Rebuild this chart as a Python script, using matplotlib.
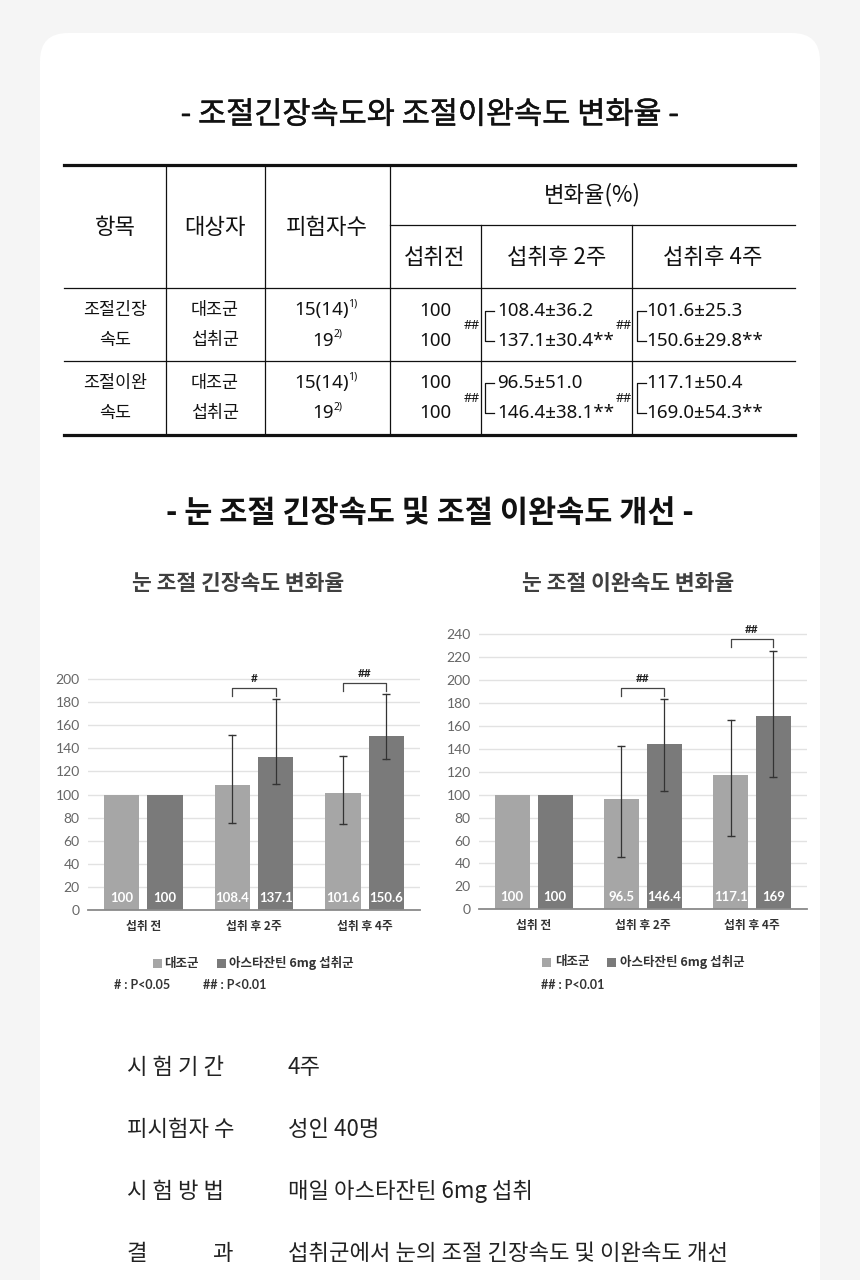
import numpy as np
import matplotlib.pyplot as plt
import matplotlib.patheffects as pe
from matplotlib.patches import FancyBboxPatch, Rectangle

plt.rcParams['font.family'] = ['Noto Sans CJK KR', 'DejaVu Sans']
LATIN = ['Noto Sans', 'Noto Sans CJK KR', 'DejaVu Sans']
NUMS = ['Lato', 'Noto Sans CJK KR', 'DejaVu Sans']

# table data
tbl_items = ['조절긴장\n속도', '조절이완\n속도']
tbl_groups = ['대조군', '섭취군']
tbl_n = [('15(14)', '1)'), ('19', '2)')]
tbl_before = ['100', '100']
tbl_week2 = [['108.4±36.2', '137.1±30.4**'], ['96.5±51.0', '146.4±38.1**']]
tbl_week4 = [['101.6±25.3', '150.6±29.8**'], ['117.1±50.4', '169.0±54.3**']]

# chart data
categories = ['섭취 전', '섭취 후 2주', '섭취 후 4주']
series_names = ['대조군', '아스타잔틴 6mg 섭취군']

tension_ctrl = [100, 108.4, 101.6]
tension_trt = [100, 132.5, 150.6]
tension_ctrl_lbl = ['100', '108.4', '101.6']
tension_trt_lbl = ['100', '137.1', '150.6']
tension_ctrl_err = [None, (75.3, 151.5), (74.1, 133.6)]
tension_trt_err = [None, (108.7, 182.7), (130.7, 186.7)]
tension_sig = [None, '#', '##']
tension_sig_y = [None, 192, 196.3]

relax_ctrl = [100, 96.5, 117.1]
relax_trt = [100, 144, 169]
relax_ctrl_lbl = ['100', '96.5', '117.1']
relax_trt_lbl = ['100', '146.4', '169']
relax_ctrl_err = [None, (45.4, 142.5), (64, 165)]
relax_trt_err = [None, (103.5, 183.2), (115.7, 225.4)]
relax_sig = [None, '##', '##']
relax_sig_y = [None, 192.8, 235.6]

info_labels = ['시 험 기 간', '피시험자 수', '시 험 방 법', '결  과']
info_values = ['4주', '성인 40명', '매일 아스타잔틴 6mg 섭취',
               '섭취군에서 눈의 조절 긴장속도 및 이완속도 개선']

c_ctrl = '#a6a6a6'
c_trt = '#7a7a7a'
W, H = 860, 1280

fig = plt.figure(figsize=(8.6, 12.8), dpi=100)
fig.patch.set_facecolor('#f5f5f5')

# background axes in pixel coordinates
bg = fig.add_axes([0, 0, 1, 1], zorder=0)
bg.set_xlim(0, W)
bg.set_ylim(H, 0)
bg.axis('off')
bg.add_patch(FancyBboxPatch((40, 33), 780, 1320, boxstyle='round,pad=0,rounding_size=28',
                            fc='white', ec='none'))

bg.text(430, 115, '- 조절긴장속도와 조절이완속도 변화율 -', ha='center', va='center',
        fontsize=22, color='#111111',
        path_effects=[pe.withStroke(linewidth=0.35, foreground='#111111')])

# ---- table
k = '#111111'
bg.plot([64, 795], [165, 165], color=k, lw=2.3)
bg.plot([64, 795], [435, 435], color=k, lw=2.3)
bg.plot([390, 795], [225, 225], color=k, lw=0.9)
for yy in (288, 361):
    bg.plot([64, 795], [yy, yy], color=k, lw=0.9)
for xx in (166, 265, 390):
    bg.plot([xx, xx], [165, 435], color=k, lw=0.9)
for xx in (481, 632):
    bg.plot([xx, xx], [225, 435], color=k, lw=0.9)

hdr = dict(ha='center', va='center', fontsize=16, color=k)
bg.text(115, 228, '항목', **hdr)
bg.text(215, 228, '대상자', **hdr)
bg.text(327, 228, '피험자수', **hdr)
bg.text(592, 195, '변화율(%)', **hdr)
bg.text(435, 258, '섭취전', **hdr)
bg.text(557, 258, '섭취후 2주', **hdr)
bg.text(713, 258, '섭취후 4주', **hdr)

row_y = [(310.5, 340.5), (383, 413)]
cell = dict(va='center', fontsize=12.5, color=k)
num = dict(va='center', fontsize=13.5, color=k, family=LATIN)
for r in range(2):
    ys = row_y[r]
    for j, line in enumerate(tbl_items[r].split('\n')):
        bg.text(115, ys[j], line, ha='center', **cell)
    for j in range(2):
        bg.text(215, ys[j], tbl_groups[j], ha='center', **cell)
        main, sup = tbl_n[j]
        right = 349 if j == 0 else 334
        bg.text(right, ys[j], main, ha='right', **num)
        bg.text(right - 0.5, ys[j] - 6, sup, ha='left', va='center', fontsize=7.5,
                color=k, family=LATIN)
        bg.text(435, ys[j], tbl_before[j], ha='center', **num)
        bg.text(497, ys[j], tbl_week2[r][j], ha='left', **num)
        bg.text(646, ys[j], tbl_week4[r][j], ha='left', **num)
    for bx in (485, 637):
        bg.plot([bx + 9, bx, bx, bx + 9], [ys[0], ys[0], ys[1], ys[1]], color=k, lw=0.9)
        bg.text(bx - 13, (ys[0] + ys[1]) / 2, '##', ha='center', va='center', fontsize=9,
                color=k, family=LATIN)

# ---- charts
bg.text(430, 513, '- 눈 조절 긴장속도 및 조절 이완속도 개선 -', ha='center', va='center',
        fontsize=22, fontweight='bold', color='#111111')
bg.text(238, 583, '눈 조절 긴장속도 변화율', ha='center', va='center',
        fontsize=15.5, fontweight='bold', color='#404040')
bg.text(628, 583, '눈 조절 이완속도 변화율', ha='center', va='center',
        fontsize=15.5, fontweight='bold', color='#404040')


def draw_chart(ax, ctrl, trt, ctrl_lbl, trt_lbl, ctrl_err, trt_err, sig, sig_y, ymax, yticks):
    x = np.arange(len(categories))
    w, off = 0.32, 0.196
    ax.bar(x - off, ctrl, w, color=c_ctrl, zorder=2)
    ax.bar(x + off, trt, w, color=c_trt, zorder=2)
    for i in range(len(x)):
        for xx, e, lbl in ((x[i] - off, ctrl_err[i], ctrl_lbl[i]), (x[i] + off, trt_err[i], trt_lbl[i])):
            if e is not None:
                ax.plot([xx, xx], [e[0], e[1]], color='#333333', lw=0.9, marker='_',
                        ms=6, mew=1.0, zorder=3)
            ax.text(xx, 10.5, lbl, ha='center', va='center', color='white',
                    fontsize=9.5, fontweight='bold', zorder=4, family=NUMS)
        if sig[i]:
            x0, x1, yb = x[i] - off, x[i] + off, sig_y[i]
            ax.plot([x0, x0, x1, x1], [yb - 6.5, yb, yb, yb - 6.5], color='#444444', lw=0.9,
                    clip_on=False)
            ax.text(x[i], yb + 8.5, sig[i], ha='center', va='center', fontsize=8.5,
                    fontweight='bold', color='#222222', family=NUMS)
    ax.set_xlim(-0.5, 2.5)
    ax.set_ylim(0, ymax)
    ax.set_yticks(yticks)
    ax.set_xticks(x)
    ax.set_xticklabels(categories, fontsize=8.5, fontweight='bold', color='#333333')
    for t in ax.get_yticklabels():
        t.set_family(NUMS)
    ax.yaxis.grid(True, color='#e2e2e2', lw=1)
    ax.set_axisbelow(True)
    for s in ('left', 'right', 'top'):
        ax.spines[s].set_visible(False)
    ax.spines['bottom'].set_color('#8a8a8a')
    ax.spines['bottom'].set_linewidth(1.3)
    ax.tick_params(axis='y', length=0, labelsize=10, labelcolor='#666666', pad=6)
    ax.tick_params(axis='x', length=0, pad=7)
    ax.set_facecolor('none')


axl = fig.add_axes([88 / W, (H - 910) / H, 332 / W, 215 * 1.155 / H], zorder=2)
draw_chart(axl, tension_ctrl, tension_trt, tension_ctrl_lbl, tension_trt_lbl,
           tension_ctrl_err, tension_trt_err, tension_sig, tension_sig_y, 215, range(0, 201, 20))

axr = fig.add_axes([479 / W, (H - 909.3) / H, 327.7 / W, 250 * 1.146 / H], zorder=2)
draw_chart(axr, relax_ctrl, relax_trt, relax_ctrl_lbl, relax_trt_lbl,
           relax_ctrl_err, relax_trt_err, relax_sig, relax_sig_y, 250, range(0, 241, 20))

# legends
leg = dict(va='center', fontsize=9, fontweight='bold', color='#333333')
for sx, tx, y0 in (((153, 217), (164, 229), 963), ((542, 607), (555, 620), 962)):
    for col, sxx, txx, name in zip((c_ctrl, c_trt), sx, tx, series_names):
        bg.add_patch(Rectangle((sxx, y0 - 4.5), 9, 9, fc=col, ec='none'))
        bg.text(txx, y0, name, ha='left', **leg)
bg.text(114, 985, '# : P<0.05', ha='left', family=NUMS, **leg)
bg.text(203, 985, '## : P<0.01', ha='left', family=NUMS, **leg)
bg.text(541, 985, '## : P<0.01', ha='left', family=NUMS, **leg)

# info block
for i, (lbl, val) in enumerate(zip(info_labels, info_values)):
    yy = 1067 + i * 62
    parts = lbl.split('  ')
    if len(parts) == 2:
        bg.text(127, yy, parts[0], ha='left', va='center', fontsize=16, color='#222222')
        bg.text(233, yy, parts[1], ha='right', va='center', fontsize=16, color='#222222')
    else:
        bg.text(127, yy, lbl, ha='left', va='center', fontsize=16, color='#222222')
    bg.text(288, yy, val, ha='left', va='center', fontsize=16, color='#222222')

fig.savefig('out.png', dpi=100)
